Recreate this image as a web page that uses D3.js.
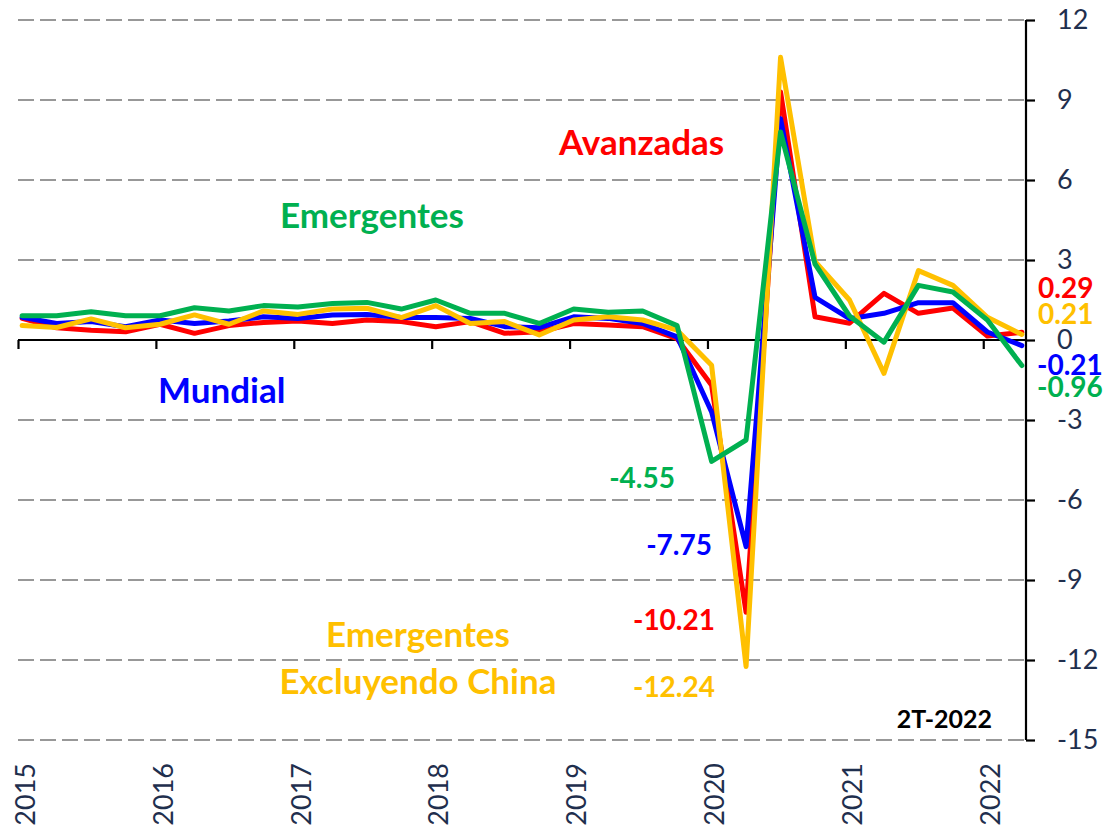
<!DOCTYPE html>
<html>
<head>
<meta charset="utf-8">
<script src="https://cdn.jsdelivr.net/npm/d3@7"></script>
<style>
  html, body { margin: 0; padding: 0; background: #ffffff; }
  svg { display: block; }
  text { font-family: Lato, "Open Sans", sans-serif; }
</style>
</head>
<body>
<svg id="chart" width="1106" height="827"></svg>
<script>
// ---- Data (quarterly, 2015Q1 .. 2022Q2, % q/q) ----
const quarters = d3.range(30).map(i => `${2015 + Math.floor(i / 4)}Q${(i % 4) + 1}`);
const years = ["2015", "2016", "2017", "2018", "2019", "2020", "2021", "2022"];
const yTicks = [-15, -12, -9, -6, -3, 0, 3, 6, 9, 12];

const mundial = [0.85, 0.62, 0.69, 0.50, 0.75, 0.62, 0.71, 0.87, 0.81, 0.94,
                 0.96, 0.84, 0.84, 0.81, 0.50, 0.46, 0.87, 0.81, 0.62, 0.12,
                 -2.70, -7.75, 8.30, 1.60, 0.80, 1.00, 1.40, 1.40, 0.30, -0.21];
const avanzadas = [0.81, 0.46, 0.37, 0.31, 0.59, 0.25, 0.54, 0.66, 0.71, 0.62,
                   0.75, 0.69, 0.50, 0.69, 0.25, 0.31, 0.62, 0.56, 0.50, 0.05,
                   -1.70, -10.21, 9.30, 0.87, 0.63, 1.75, 1.00, 1.20, 0.15, 0.29];
const emergentes = [0.91, 0.91, 1.06, 0.91, 0.91, 1.21, 1.09, 1.29, 1.24, 1.37,
                    1.41, 1.16, 1.50, 1.00, 1.00, 0.62, 1.16, 1.04, 1.09, 0.54,
                    -4.55, -3.75, 7.80, 2.85, 0.90, -0.08, 2.05, 1.80, 0.75, -0.96];
const emergExChina = [0.54, 0.47, 0.79, 0.46, 0.59, 0.94, 0.59, 1.09, 0.96, 1.16,
                      1.19, 0.84, 1.29, 0.62, 0.69, 0.19, 0.75, 0.87, 0.75, 0.37,
                      -0.95, -12.24, 10.60, 2.95, 1.50, -1.25, 2.60, 2.05, 0.85, 0.21];

const seriesNames = ["Avanzadas", "Mundial", "Emergentes Excluyendo China", "Emergentes"];
const seriesValues = [avanzadas, mundial, emergExChina, emergentes];
const seriesColors = ["#FF0000", "#0000FF", "#FFC000", "#00B050"];

// ---- Layout ----
const svg = d3.select("#chart");
const plotL = 18, plotR = 1026, plotT = 20, plotB = 740;
const axisColor = "#1F2F4E";

const x = d3.scaleLinear().domain([-0.12, 29.12]).range([plotL, plotR]);
const y = d3.scaleLinear().domain([-15, 12]).range([plotB, plotT]);

// gridlines (dashed), except zero
svg.append("g").selectAll("line")
  .data(yTicks.filter(v => v !== 0))
  .join("line")
  .attr("x1", plotL).attr("x2", plotR)
  .attr("y1", d => y(d)).attr("y2", d => y(d))
  .attr("stroke", "#989898").attr("stroke-width", 2)
  .attr("stroke-dasharray", "16,6");

// zero axis with year ticks
const xAxis = d3.axisBottom(x)
  .tickValues(years.map((yr, k) => 4 * k - 0.12))
  .tickSize(9)
  .tickFormat("");
const gx = svg.append("g").attr("transform", `translate(0,${y(0)})`).call(xAxis);
gx.select(".domain").attr("d", `M${plotL},0H${plotR}`).attr("stroke", "#000").attr("stroke-width", 2.2);
gx.selectAll(".tick line").attr("stroke", "#000").attr("stroke-width", 2.2);

// year labels (rotated)
svg.append("g").selectAll("text")
  .data(years)
  .join("text")
  .attr("transform", (d, k) => `translate(${x(4 * k - 0.12) + 7},763) rotate(-90)`)
  .attr("text-anchor", "end")
  .attr("dy", "0.36em")
  .attr("font-size", 27)
  .attr("fill", axisColor)
  .text(d => d);

// right y axis
const yAxis = d3.axisRight(y).tickValues(yTicks).tickSize(9).tickPadding(22).tickFormat(d3.format("d"));
const gy = svg.append("g").attr("transform", `translate(${plotR},0)`).call(yAxis);
gy.select(".domain").attr("d", `M0,${plotT}V${plotB}`).attr("stroke", "#000").attr("stroke-width", 2.2);
gy.selectAll(".tick line").attr("stroke", "#000").attr("stroke-width", 2.2);
gy.selectAll(".tick text")
  .attr("font-size", 27)
  .attr("font-family", "Lato, 'Open Sans', sans-serif")
  .attr("fill", axisColor)
  .text(d => d < 0 ? "-" + Math.abs(d) : d);

// series lines
const line = d3.line().x((d, i) => x(i)).y(d => y(d));
svg.append("g").selectAll("path")
  .data(seriesValues)
  .join("path")
  .attr("d", d => line(d))
  .attr("fill", "none")
  .attr("stroke", (d, i) => seriesColors[i])
  .attr("stroke-width", 5)
  .attr("stroke-linejoin", "round")
  .attr("stroke-linecap", "round");

// ---- Annotations ----
const fmt = v => d3.format(".2f")(v).replace("\u2212", "-");
const ann = svg.append("g").attr("font-weight", 700);

function label(txt, px, py, color, size, anchor) {
  ann.append("text").attr("x", px).attr("y", py)
    .attr("fill", color).attr("font-size", size)
    .attr("text-anchor", anchor || "start").text(txt);
}

// series names
label("Avanzadas", 559, 155, "#FF0000", 35);
label("Emergentes", 280, 228, "#00B050", 35);
label("Mundial", 158, 403, "#0000FF", 35);
label("Emergentes", 418, 647, "#FFC000", 35, "middle");
label("Excluyendo China", 418, 694, "#FFC000", 35, "middle");

// trough values
label(fmt(emergentes[20]), 675, 488, "#00B050", 28, "end");
label(fmt(mundial[21]), 712, 555, "#0000FF", 28, "end");
label(fmt(avanzadas[21]), 715, 630, "#FF0000", 28, "end");
label(fmt(emergExChina[21]), 715, 697, "#FFC000", 28, "end");

// latest values
label(fmt(avanzadas[29]), 1038, 298, "#FF0000", 28);
label(fmt(emergExChina[29]), 1038, 324, "#FFC000", 28);
label(fmt(mundial[29]), 1037, 375, "#0000FF", 28);
label(fmt(emergentes[29]), 1037, 397, "#00B050", 28);

label("2T-2022", 992, 728, "#000000", 25, "end");
</script>
</body>
</html>
